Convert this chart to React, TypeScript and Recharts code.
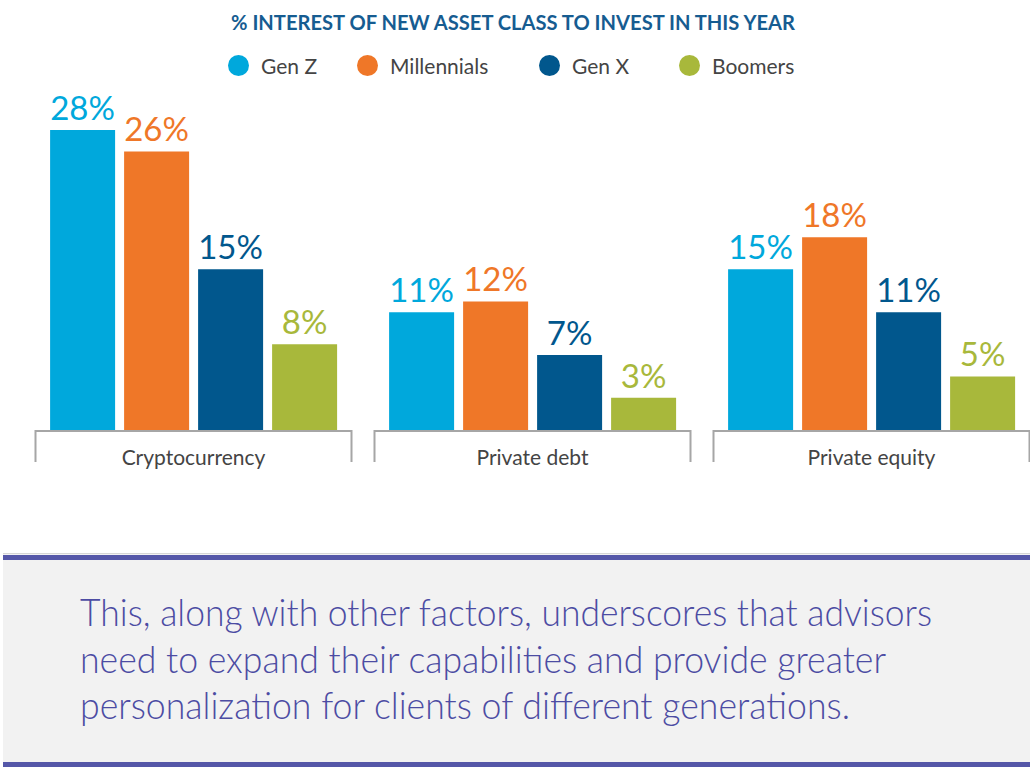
import React from 'react'
import { BarChart, Bar, XAxis, YAxis, Legend, LabelList } from 'recharts'

// values (percent)
const categories = ['Cryptocurrency', 'Private debt', 'Private equity']
const genZ = [28, 11, 15]
const millennials = [26, 12, 18]
const genX = [15, 7, 11]
const boomers = [8, 3, 5]

const seriesKeys = ['genZ', 'millennials', 'genX', 'boomers']
const seriesNames = ['Gen Z', 'Millennials', 'Gen X', 'Boomers']
const seriesColors = ['#00a8dc', '#ef7728', '#01578d', '#a8b83b']

const title = '% INTEREST OF NEW ASSET CLASS TO INVEST IN THIS YEAR'
const noteLines = [
  'This, along with other factors, underscores that advisors',
  'need to expand their capabilities and provide greater',
  'personalization for clients of different generations.',
]

const data = categories.map((category, i) => ({
  category,
  genZ: genZ[i],
  millennials: millennials[i],
  genX: genX[i],
  boomers: boomers[i],
}))

const FONT = 'Lato, "Open Sans", sans-serif'

// bracket under each group plus the category name
const BracketTick = (props: any) => {
  const { x, y, payload } = props
  const half = 158
  return (
    <g>
      <path
        d={`M${x - half},${y + 32} V${y + 1} H${x + half} V${y + 32}`}
        fill='none'
        stroke='#a6a6a6'
        strokeWidth={2}
      />
      <text
        x={x}
        y={y + 35}
        textAnchor='middle'
        fontSize={21}
        fontFamily={FONT}
        fill='#444'
      >
        {payload.value}
      </text>
    </g>
  )
}

const legendWidths = [129, 182, 140, 120]

const renderLegend = () => (
  <div
    style={{
      display: 'flex',
      alignItems: 'center',
      height: 40,
      paddingLeft: 228,
      fontFamily: FONT,
      fontSize: 21,
      color: '#444',
    }}
  >
    {seriesNames.map((name, i) => (
      <div
        key={name}
        style={{ display: 'flex', alignItems: 'center', width: legendWidths[i] }}
      >
        <span
          style={{
            display: 'inline-block',
            width: 21,
            height: 21,
            borderRadius: '50%',
            background: seriesColors[i],
            marginRight: 12,
          }}
        />
        {name}
      </div>
    ))}
  </div>
)

export default function App() {
  return (
    <div
      style={{
        position: 'absolute',
        left: 0,
        top: 0,
        width: 1030,
        height: 776,
        overflow: 'hidden',
        background: '#fff',
      }}
    >
      <svg
        width={1030}
        height={40}
        style={{ position: 'absolute', left: 0, top: 0 }}
      >
        <text
          x={513}
          y={30}
          textAnchor='middle'
          fontSize={21}
          fontWeight={700}
          fontFamily={FONT}
          fill='#165c91'
          textLength={564}
          lengthAdjust='spacingAndGlyphs'
        >
          {title}
        </text>
      </svg>

      <div style={{ position: 'absolute', left: 0, top: 0 }}>
        <BarChart
          width={1050}
          height={500}
          data={data}
          margin={{ top: 90, right: 9, bottom: 0, left: 24 }}
          barCategoryGap='7.7%'
          barGap={9}
        >
          <Legend
            verticalAlign='top'
            content={renderLegend}
            wrapperStyle={{ top: 45, left: 0, width: 1030, height: 40 }}
          />
          <XAxis
            dataKey='category'
            axisLine={false}
            tickLine={false}
            tickSize={0}
            tickMargin={0}
            interval={0}
            height={70}
            tick={<BracketTick />}
          />
          <YAxis hide domain={[0, 28]} />
          {seriesKeys.map((key, i) => (
            <Bar
              key={key}
              dataKey={key}
              name={seriesNames[i]}
              fill={seriesColors[i]}
              isAnimationActive={false}
            >
              <LabelList
                dataKey={key}
                position='top'
                offset={10}
                formatter={(v: any) => `${v}%`}
                fill={seriesColors[i]}
                fontSize={33}
                fontFamily={FONT}
              />
            </Bar>
          ))}
        </BarChart>
      </div>

      <div
        style={{
          position: 'absolute',
          left: 3,
          top: 553,
          width: 1027,
          height: 214,
          background: '#f2f2f2',
          borderTop: '1px solid #d6d6d6',
          boxSizing: 'border-box',
        }}
      >
        <div style={{ height: 5, background: '#5557a8', marginTop: 1 }} />
        <svg width={1027} height={200} style={{ position: 'absolute', left: 0, top: 0 }}>
          {noteLines.map((line, i) => (
            <text
              key={i}
              x={77}
              y={72 + i * 46.5}
              fontSize={37}
              fontWeight={300}
              fontFamily={FONT}
              fill='#4c4ca3'
              textLength={[852, 806, 770][i]}
              lengthAdjust='spacingAndGlyphs'
            >
              {line}
            </text>
          ))}
        </svg>
        <div
          style={{
            position: 'absolute',
            left: 0,
            right: 0,
            bottom: 0,
            height: 5,
            background: '#5557a8',
          }}
        />
      </div>
    </div>
  )
}
